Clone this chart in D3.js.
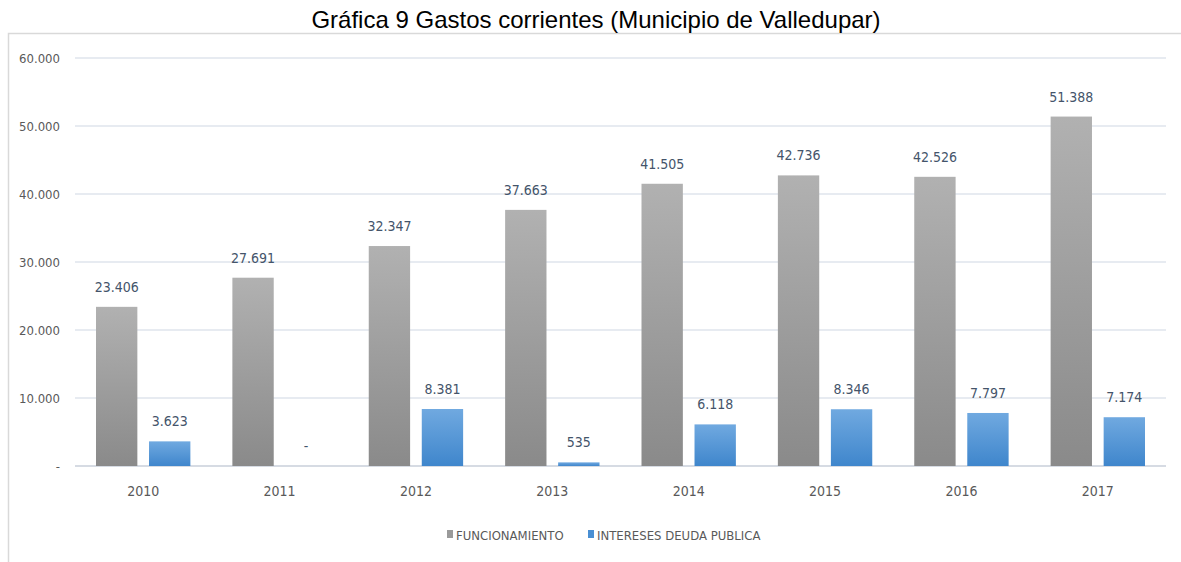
<!DOCTYPE html>
<html>
<head>
<meta charset="utf-8">
<script src="https://cdn.jsdelivr.net/npm/d3@7"></script>
<style>
  body { margin: 0; background: #fff; }
  svg text { font-family: "Liberation Sans Narrow", "DejaVu Sans Condensed", sans-serif; }
</style>
</head>
<body>
<script>
// Data
const years = ["2010", "2011", "2012", "2013", "2014", "2015", "2016", "2017"];
const funcionamiento = [23406, 27691, 32347, 37663, 41505, 42736, 42526, 51388];
const intereses = [3623, 0, 8381, 535, 6118, 8346, 7797, 7174];
const seriesNames = ["FUNCIONAMIENTO", "INTERESES DEUDA PUBLICA"];
const yTicks = [0, 10000, 20000, 30000, 40000, 50000, 60000];

const W = 1181, H = 562;
const margin = {top: 58, right: 15, bottom: 96, left: 75};
const width = W - margin.left - margin.right;
const height = H - margin.top - margin.bottom;

const svg = d3.select('body').append('svg')
  .attr('width', W)
  .attr('height', H);

// gradients for the bars
const defs = svg.append('defs');
function grad(id, top, bottom) {
  const g = defs.append('linearGradient').attr('id', id)
    .attr('x1', 0).attr('y1', 0).attr('x2', 0).attr('y2', 1);
  g.append('stop').attr('offset', '0%').attr('stop-color', top);
  g.append('stop').attr('offset', '100%').attr('stop-color', bottom);
}
grad('gGray', '#b1b1b1', '#8a8a8a');
grad('gBlue', '#70a9e0', '#3f86cc');

// outer border of the chart area
svg.append('path')
  .attr('d', `M8.5,${H} V33.5 H${W}`)
  .attr('fill', 'none')
  .attr('stroke', '#d9d9d9')
  .attr('stroke-width', 1.5);

// title
svg.append('text')
  .attr('x', 596).attr('y', 28)
  .attr('text-anchor', 'middle')
  .style('font-family', 'Arial, "Liberation Sans", sans-serif')
  .style('font-size', '24px')
  .attr('fill', '#000')
  .text('Gráfica 9 Gastos corrientes (Municipio de Valledupar)');

const g = svg.append('g').attr('transform', `translate(${margin.left},${margin.top})`);

const x = d3.scaleBand().domain(years).range([0, width]).paddingInner(0).paddingOuter(0);
const xIn = d3.scaleBand().domain([0, 1]).range([21, x.bandwidth() - 21]).paddingInner(0.22);
const y = d3.scaleLinear().domain([0, 60000]).range([height, 0]);

const fmt = v => v === 0 ? '-' : d3.format(',')(v).replace(/,/g, '.');

// gridlines
g.selectAll('.grid').data(yTicks).enter().append('line')
  .attr('x1', 0).attr('x2', width)
  .attr('y1', d => y(d)).attr('y2', d => y(d))
  .attr('stroke', d => d === 0 ? '#d6dbe3' : '#dfe4ec')
  .attr('stroke-width', d => d === 0 ? 2 : 1.5);

// y axis labels
const yAxis = d3.axisLeft(y).tickValues(yTicks).tickFormat(fmt).tickSize(0).tickPadding(15);
const ya = g.append('g').call(yAxis);
ya.select('.domain').remove();
ya.selectAll('text').attr('fill', '#595959').style('font-size', '13px');

// x axis labels
const xAxis = d3.axisBottom(x).tickSize(0).tickPadding(20);
const xa = g.append('g').attr('transform', `translate(0,${height})`).call(xAxis);
xa.select('.domain').remove();
xa.selectAll('text').attr('fill', '#595959').style('font-size', '14px');

const rows = years.map((yr, i) => ({year: yr, vals: [funcionamiento[i], intereses[i]]}));
const fills = ['url(#gGray)', 'url(#gBlue)'];

const grp = g.selectAll('.yr').data(rows).enter().append('g')
  .attr('transform', d => `translate(${x(d.year)},0)`);

grp.selectAll('rect').data(d => d.vals.map((v, k) => ({v, k}))).enter().append('rect')
  .attr('x', d => xIn(d.k))
  .attr('width', xIn.bandwidth())
  .attr('y', d => y(d.v))
  .attr('height', d => height - y(d.v))
  .attr('fill', d => fills[d.k]);

grp.selectAll('.lbl').data(d => d.vals.map((v, k) => ({v, k}))).enter().append('text')
  .attr('x', d => xIn(d.k) + xIn.bandwidth() / 2)
  .attr('y', d => y(d.v) - 15)
  .attr('text-anchor', 'middle')
  .attr('fill', '#44546a')
  .style('font-size', '14px')
  .text(d => fmt(d.v));

// legend
const legend = svg.append('g').attr('transform', 'translate(447,535)');
const items = [{name: seriesNames[0], x: 0, c: '#9a9a9a'}, {name: seriesNames[1], x: 141, c: '#4a8fd3'}];
items.forEach(it => {
  legend.append('rect').attr('x', it.x).attr('y', -5).attr('width', 6).attr('height', 8).attr('fill', it.c);
  legend.append('text').attr('x', it.x + 9).attr('y', 5)
    .attr('fill', '#595959').style('font-size', '13px').text(it.name);
});
</script>
</body>
</html>
